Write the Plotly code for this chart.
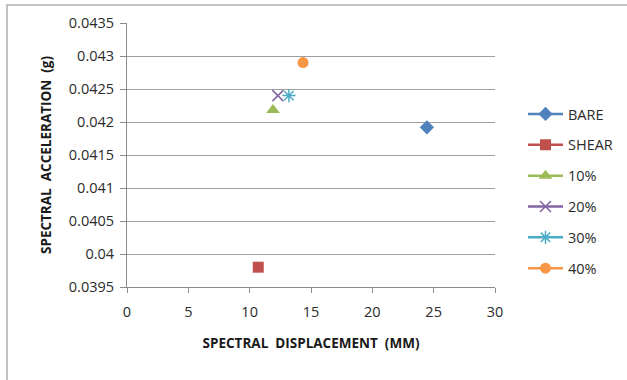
import plotly.graph_objects as go

# Response spectrum demand points: spectral displacement (mm) vs spectral acceleration (g)
series_names = ["BARE", "SHEAR", "10%", "20%", "30%", "40%"]
disp_mm = [24.45, 10.7, 11.9, 12.3, 13.2, 14.35]
accel_g = [0.04192, 0.03980, 0.04218, 0.04240, 0.04240, 0.04290]

colors = ["#4F81BD", "#C0504D", "#9BBB59", "#8064A2", "#4BACC6", "#F79646"]
symbols = ["diamond", "square", "triangle-up", "x-thin-open", "asterisk-open", "circle"]
sizes = [11, 11, 12, 11, 11, 11]

y_tickvals = [0.0395, 0.04, 0.0405, 0.041, 0.0415, 0.042, 0.0425, 0.043, 0.0435]
y_ticktext = ["0.0395", "0.04", "0.0405", "0.041", "0.0415", "0.042", "0.0425", "0.043", "0.0435"]
x_tickvals = [0, 5, 10, 15, 20, 25, 30]

W, H = 627, 380
L, R, T, B = 127, 132, 23, 93

fig = go.Figure()
for name, x, y, c, s, sz in zip(series_names, disp_mm, accel_g, colors, symbols, sizes):
    open_sym = s.endswith("-open")
    fig.add_trace(go.Scatter(
        x=[x], y=[y], name=name, mode="lines+markers", legendgroup=name,
        line=dict(color=c, width=2.5),
        marker=dict(symbol=s, size=sz, color=c,
                    line=dict(color=c, width=1.5 if open_sym else 0)),
    ))

font = "Open Sans, DejaVu Sans, sans-serif"

# outer chart frame (extends past the right and bottom edges)
pw, ph = W - L - R, H - T - B
def px_to_paper_x(px):
    return (px - L) / pw
def px_to_paper_y(py):
    return 1 - (py - T) / ph

fig.add_shape(type="rect", xref="paper", yref="paper",
              x0=px_to_paper_x(7), x1=px_to_paper_x(640),
              y0=px_to_paper_y(395), y1=px_to_paper_y(5),
              line=dict(color="#AFAFAF", width=1.5), layer="below")

fig.update_layout(
    width=W, height=H,
    margin=dict(l=L, r=R, t=T, b=B, autoexpand=False),
    paper_bgcolor="white", plot_bgcolor="white",
    font=dict(family=font, size=14.5, color="#2b2b2b"),
    showlegend=True,
    legend=dict(x=px_to_paper_x(523), y=px_to_paper_y(98), xanchor="left", yanchor="top",
                font=dict(family=font, size=14.5, color="#2b2b2b"),
                tracegroupgap=9, itemwidth=35,
                bgcolor="rgba(0,0,0,0)"),
    xaxis=dict(range=[0, 30], tickvals=x_tickvals, showgrid=False, zeroline=False,
               showline=True, linecolor="#8C8C8C", linewidth=1,
               ticks="outside", ticklen=5, tickcolor="#8C8C8C",
               ticklabelstandoff=7,
               title=dict(text="<b>SPECTRAL  DISPLACEMENT  (MM)</b>", standoff=18,
                          font=dict(family=font, size=13.5, color="#1a1a1a"))),
    yaxis=dict(range=[0.0395, 0.0435], tickvals=y_tickvals, ticktext=y_ticktext,
               showgrid=True, gridcolor="#9E9E9E", gridwidth=1, zeroline=False,
               showline=True, linecolor="#8C8C8C", linewidth=1,
               ticks="outside", ticklen=6, tickcolor="#8C8C8C",
               ticklabelstandoff=3,
               title=dict(text="<b>SPECTRAL  ACCELERATION  (g)</b>", standoff=14,
                          font=dict(family=font, size=13.5, color="#1a1a1a"))),
)

fig.write_html("out.html")
